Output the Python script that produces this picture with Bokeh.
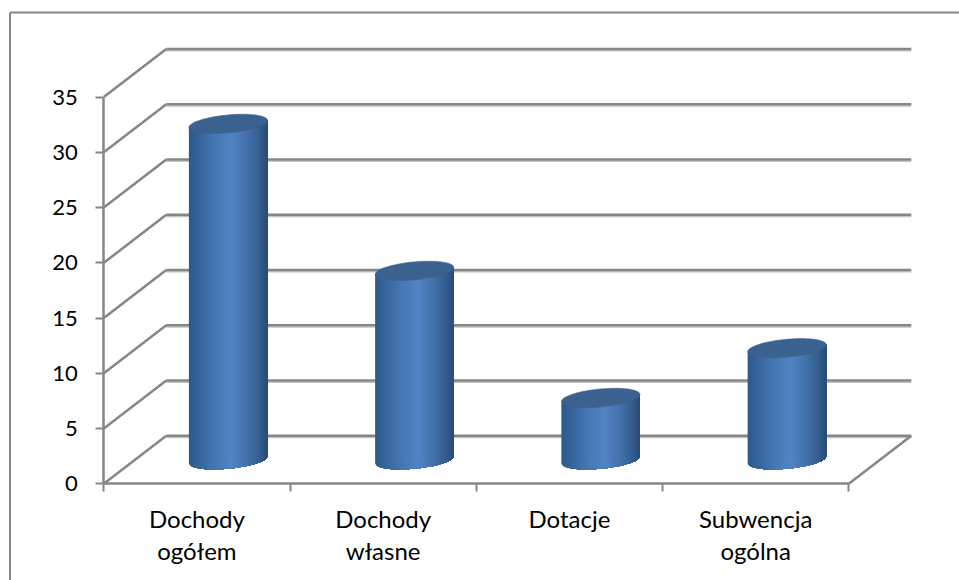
import numpy as np
from bokeh.plotting import figure
from bokeh.models import LinearAxis, FixedTicker, Range1d
from bokeh.embed import file_html
from bokeh.resources import INLINE

categories = ["Dochody\nogółem", "Dochody\nwłasne", "Dotacje", "Subwencja\nogólna"]
values = [30.4, 17.1, 5.6, 10.1]
y_ticks = [0, 5, 10, 15, 20, 25, 30, 35]

GRID = "#868686"
GRID_LIGHT = "#c4c4c4"
FONT = "Lato"
TOP_COL = "#3b628f"

W, H = 959, 580
PX_X, PX_Y = 186.25, 11.05      # px per data unit
X0, Y0 = 103.3, 483.3           # position of data (0,0) inside the canvas
DX, DY = 62.5 / PX_X, 48 / PX_Y # oblique depth of the 3D box

p = figure(width=W, height=H, output_backend="svg", toolbar_location=None,
           x_axis_location=None, y_axis_location=None, min_border=0,
           x_range=Range1d(-X0 / PX_X, (W - X0) / PX_X),
           y_range=Range1d((Y0 - H) / PX_Y, Y0 / PX_Y))
p.outline_line_color = None
p.xgrid.visible = False
p.ygrid.visible = False
p.background_fill_color = "white"
p.border_fill_color = "white"

# Chart-area border (left and top edges visible in the reference)
bx, by = (9.5 - X0) / PX_X, (Y0 - 12) / PX_Y
p.segment(bx, by, bx, (Y0 - H) / PX_Y, line_color=GRID, line_width=2)
p.segment(bx, by, (W - X0) / PX_X, by, line_color=GRID, line_width=2)

# 3D box: walls, floor
n = len(categories)
shadow = 1.6 / PX_Y
tv = np.array(y_ticks, dtype=float)
p.segment(DX, tv + DY - shadow, n + DX, tv + DY - shadow, line_color=GRID_LIGHT, line_width=1.5)
p.segment(DX, tv + DY, n + DX, tv + DY, line_color=GRID, line_width=2.5)
p.segment(0, tv, DX, tv + DY, line_color=GRID, line_width=2.5)
p.segment(n, 0, n + DX, DY, line_color=GRID, line_width=2.5)

# Cylinders: painter's-order strips so the gradient has no seams
half = 39.3 / PX_X
tilt = 3.5 / PX_Y
bulge = 9.0 / PX_Y
base = 24 / PX_Y
stops_t = [0.0, 0.12, 0.3, 0.55, 0.75, 0.9, 1.0]
stops_c = [(0x2f, 0x5a, 0x8c), (0x36, 0x64, 0x9b), (0x44, 0x75, 0xb0), (0x52, 0x85, 0xc6),
           (0x42, 0x71, 0xaa), (0x35, 0x5e, 0x90), (0x2b, 0x4b, 0x72)]
STRIPS = 78
edges = np.linspace(-1, 1, STRIPS + 1)
for i, v in enumerate(values):
    cx = i + 0.5 + DX / 2
    xs, ys, cols = [], [], []
    for k in range(STRIPS):
        e = edges[k:]
        lower = base + e * tilt - bulge * np.sqrt(np.clip(1 - e * e, 0, 1))
        upper = base + v + e * tilt
        xs.append(np.concatenate([cx + e * half, cx + e[::-1] * half]))
        ys.append(np.concatenate([lower, upper[::-1]]))
        t = (edges[k] + edges[k + 1]) / 4 + 0.5
        c = [int(np.interp(t, stops_t, [s[j] for s in stops_c])) for j in range(3)]
        cols.append("#%02x%02x%02x" % tuple(c))
    p.patches(xs, ys, fill_color=cols, line_color=None)
    th = np.linspace(0, 2 * np.pi, 120)
    p.patch(cx + half * np.cos(th), base + v + tilt * np.cos(th) + bulge * np.sin(th),
            fill_color=TOP_COL, line_color=TOP_COL, line_width=0.5)

# Axes
yax = LinearAxis(fixed_location=0, ticker=FixedTicker(ticks=y_ticks), bounds=(0, 35))
xax = LinearAxis(fixed_location=0, bounds=(0, n),
                 ticker=FixedTicker(ticks=[k + 0.5 for k in range(n)], minor_ticks=list(range(n + 1))),
                 major_label_overrides={k + 0.5: c for k, c in enumerate(categories)})
for ax in (xax, yax):
    ax.axis_line_color = GRID
    ax.axis_line_width = 2.5
    ax.major_tick_line_color = GRID
    ax.major_tick_line_width = 2
    ax.major_tick_in = 0
    ax.major_tick_out = 8
    ax.minor_tick_line_color = None
    ax.major_label_text_font = FONT
    ax.major_label_text_font_size = "22px"
    ax.major_label_text_color = "#000000"
yax.major_label_standoff = 18
xax.major_tick_line_color = None
xax.minor_tick_line_color = GRID
xax.minor_tick_line_width = 2
xax.minor_tick_in = 0
xax.minor_tick_out = 8
xax.major_label_standoff = 12
xax.major_label_text_font_size = "24px"
xax.major_label_text_line_height = 1.12
xax.major_label_orientation = "horizontal"
p.add_layout(yax, "left")
p.add_layout(xax, "below")

open("out.html", "w").write(file_html(p, INLINE))
